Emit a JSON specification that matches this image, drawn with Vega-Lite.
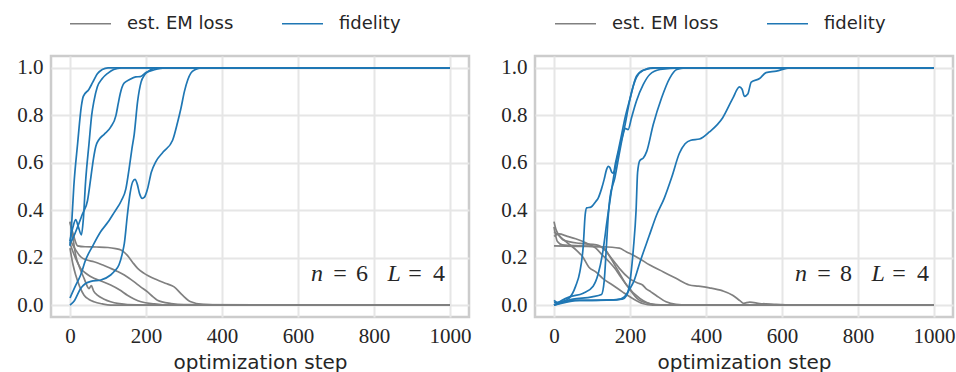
{
  "$schema": "https://vega.github.io/schema/vega-lite/v6.json",
  "autosize": {"type": "pad"},
  "padding": {"left": 15, "top": 0, "right": 0, "bottom": 0},
  "config": {
    "view": {"stroke": "#cccccc", "strokeWidth": 2.5},
    "concat": {"spacing": 26},
    "axis": {
      "domain": false,
      "ticks": false,
      "gridColor": "#e6e6e6",
      "gridWidth": 2,
      "labelFont": "Liberation Serif",
      "labelFontSize": 21,
      "labelColor": "#262626",
      "labelPadding": 8,
      "titleFont": "DejaVu Sans",
      "titleFontSize": 20,
      "titleFontWeight": "normal",
      "titleColor": "#262626",
      "titlePadding": 6
    },
    "text": {"font": "Liberation Serif", "fontSize": 24, "color": "#262626", "baseline": "middle", "align": "center"},
    "line": {"strokeWidth": 1.7, "interpolate": "monotone"}
  },
  "datasets": {
    "n6": [
      {"metric": "est. EM loss", "run": 1, "step": 0, "value": 0.352},
      {"metric": "est. EM loss", "run": 1, "step": 10, "value": 0.29},
      {"metric": "est. EM loss", "run": 1, "step": 20, "value": 0.25},
      {"metric": "est. EM loss", "run": 1, "step": 40, "value": 0.246},
      {"metric": "est. EM loss", "run": 1, "step": 70, "value": 0.245},
      {"metric": "est. EM loss", "run": 1, "step": 100, "value": 0.243},
      {"metric": "est. EM loss", "run": 1, "step": 120, "value": 0.238},
      {"metric": "est. EM loss", "run": 1, "step": 134, "value": 0.232},
      {"metric": "est. EM loss", "run": 1, "step": 151, "value": 0.21},
      {"metric": "est. EM loss", "run": 1, "step": 165, "value": 0.18},
      {"metric": "est. EM loss", "run": 1, "step": 178, "value": 0.155},
      {"metric": "est. EM loss", "run": 1, "step": 195, "value": 0.134},
      {"metric": "est. EM loss", "run": 1, "step": 230, "value": 0.106},
      {"metric": "est. EM loss", "run": 1, "step": 255, "value": 0.09},
      {"metric": "est. EM loss", "run": 1, "step": 274, "value": 0.077},
      {"metric": "est. EM loss", "run": 1, "step": 296, "value": 0.042},
      {"metric": "est. EM loss", "run": 1, "step": 318, "value": 0.014},
      {"metric": "est. EM loss", "run": 1, "step": 350, "value": 0.003},
      {"metric": "est. EM loss", "run": 1, "step": 400, "value": 0},
      {"metric": "est. EM loss", "run": 1, "step": 1000, "value": 0},

      {"metric": "est. EM loss", "run": 2, "step": 0, "value": 0.275},
      {"metric": "est. EM loss", "run": 2, "step": 14, "value": 0.235},
      {"metric": "est. EM loss", "run": 2, "step": 28, "value": 0.204},
      {"metric": "est. EM loss", "run": 2, "step": 45, "value": 0.19},
      {"metric": "est. EM loss", "run": 2, "step": 63, "value": 0.183},
      {"metric": "est. EM loss", "run": 2, "step": 85, "value": 0.17},
      {"metric": "est. EM loss", "run": 2, "step": 107, "value": 0.155},
      {"metric": "est. EM loss", "run": 2, "step": 125, "value": 0.142},
      {"metric": "est. EM loss", "run": 2, "step": 143, "value": 0.127},
      {"metric": "est. EM loss", "run": 2, "step": 169, "value": 0.098},
      {"metric": "est. EM loss", "run": 2, "step": 185, "value": 0.078},
      {"metric": "est. EM loss", "run": 2, "step": 204, "value": 0.056},
      {"metric": "est. EM loss", "run": 2, "step": 218, "value": 0.036},
      {"metric": "est. EM loss", "run": 2, "step": 230, "value": 0.021},
      {"metric": "est. EM loss", "run": 2, "step": 266, "value": 0.007},
      {"metric": "est. EM loss", "run": 2, "step": 300, "value": 0.002},
      {"metric": "est. EM loss", "run": 2, "step": 1000, "value": 0},

      {"metric": "est. EM loss", "run": 3, "step": 0, "value": 0.26},
      {"metric": "est. EM loss", "run": 3, "step": 14, "value": 0.2},
      {"metric": "est. EM loss", "run": 3, "step": 28, "value": 0.155},
      {"metric": "est. EM loss", "run": 3, "step": 45, "value": 0.13},
      {"metric": "est. EM loss", "run": 3, "step": 63, "value": 0.113},
      {"metric": "est. EM loss", "run": 3, "step": 85, "value": 0.1},
      {"metric": "est. EM loss", "run": 3, "step": 107, "value": 0.085},
      {"metric": "est. EM loss", "run": 3, "step": 130, "value": 0.065},
      {"metric": "est. EM loss", "run": 3, "step": 151, "value": 0.042},
      {"metric": "est. EM loss", "run": 3, "step": 170, "value": 0.025},
      {"metric": "est. EM loss", "run": 3, "step": 187, "value": 0.014},
      {"metric": "est. EM loss", "run": 3, "step": 222, "value": 0.005},
      {"metric": "est. EM loss", "run": 3, "step": 260, "value": 0},
      {"metric": "est. EM loss", "run": 3, "step": 1000, "value": 0},

      {"metric": "est. EM loss", "run": 4, "step": 0, "value": 0.35},
      {"metric": "est. EM loss", "run": 4, "step": 8, "value": 0.28},
      {"metric": "est. EM loss", "run": 4, "step": 15, "value": 0.21},
      {"metric": "est. EM loss", "run": 4, "step": 25, "value": 0.16},
      {"metric": "est. EM loss", "run": 4, "step": 37, "value": 0.113},
      {"metric": "est. EM loss", "run": 4, "step": 50, "value": 0.07},
      {"metric": "est. EM loss", "run": 4, "step": 56, "value": 0.082},
      {"metric": "est. EM loss", "run": 4, "step": 62, "value": 0.06},
      {"metric": "est. EM loss", "run": 4, "step": 72, "value": 0.042},
      {"metric": "est. EM loss", "run": 4, "step": 90, "value": 0.025},
      {"metric": "est. EM loss", "run": 4, "step": 107, "value": 0.014},
      {"metric": "est. EM loss", "run": 4, "step": 130, "value": 0.006},
      {"metric": "est. EM loss", "run": 4, "step": 151, "value": 0.002},
      {"metric": "est. EM loss", "run": 4, "step": 200, "value": 0},
      {"metric": "est. EM loss", "run": 4, "step": 1000, "value": 0},

      {"metric": "est. EM loss", "run": 5, "step": 0, "value": 0.24},
      {"metric": "est. EM loss", "run": 5, "step": 8, "value": 0.17},
      {"metric": "est. EM loss", "run": 5, "step": 15, "value": 0.127},
      {"metric": "est. EM loss", "run": 5, "step": 25, "value": 0.08},
      {"metric": "est. EM loss", "run": 5, "step": 37, "value": 0.042},
      {"metric": "est. EM loss", "run": 5, "step": 50, "value": 0.024},
      {"metric": "est. EM loss", "run": 5, "step": 63, "value": 0.014},
      {"metric": "est. EM loss", "run": 5, "step": 85, "value": 0.005},
      {"metric": "est. EM loss", "run": 5, "step": 107, "value": 0},
      {"metric": "est. EM loss", "run": 5, "step": 1000, "value": 0},

      {"metric": "fidelity", "run": 1, "step": 0, "value": 0.25},
      {"metric": "fidelity", "run": 1, "step": 5, "value": 0.36},
      {"metric": "fidelity", "run": 1, "step": 10, "value": 0.5},
      {"metric": "fidelity", "run": 1, "step": 20, "value": 0.68},
      {"metric": "fidelity", "run": 1, "step": 30, "value": 0.84},
      {"metric": "fidelity", "run": 1, "step": 35, "value": 0.88},
      {"metric": "fidelity", "run": 1, "step": 50, "value": 0.91},
      {"metric": "fidelity", "run": 1, "step": 60, "value": 0.94},
      {"metric": "fidelity", "run": 1, "step": 72, "value": 0.975},
      {"metric": "fidelity", "run": 1, "step": 85, "value": 0.993},
      {"metric": "fidelity", "run": 1, "step": 100, "value": 1},
      {"metric": "fidelity", "run": 1, "step": 1000, "value": 1},

      {"metric": "fidelity", "run": 2, "step": 0, "value": 0.27},
      {"metric": "fidelity", "run": 2, "step": 8, "value": 0.33},
      {"metric": "fidelity", "run": 2, "step": 15, "value": 0.36},
      {"metric": "fidelity", "run": 2, "step": 22, "value": 0.33},
      {"metric": "fidelity", "run": 2, "step": 30, "value": 0.296},
      {"metric": "fidelity", "run": 2, "step": 35, "value": 0.36},
      {"metric": "fidelity", "run": 2, "step": 41, "value": 0.52},
      {"metric": "fidelity", "run": 2, "step": 50, "value": 0.68},
      {"metric": "fidelity", "run": 2, "step": 57, "value": 0.8},
      {"metric": "fidelity", "run": 2, "step": 63, "value": 0.86},
      {"metric": "fidelity", "run": 2, "step": 72, "value": 0.92},
      {"metric": "fidelity", "run": 2, "step": 85, "value": 0.955},
      {"metric": "fidelity", "run": 2, "step": 100, "value": 0.978},
      {"metric": "fidelity", "run": 2, "step": 115, "value": 0.993},
      {"metric": "fidelity", "run": 2, "step": 135, "value": 1},
      {"metric": "fidelity", "run": 2, "step": 1000, "value": 1},

      {"metric": "fidelity", "run": 3, "step": 0, "value": 0.26},
      {"metric": "fidelity", "run": 3, "step": 10, "value": 0.29},
      {"metric": "fidelity", "run": 3, "step": 20, "value": 0.33},
      {"metric": "fidelity", "run": 3, "step": 33, "value": 0.385},
      {"metric": "fidelity", "run": 3, "step": 46, "value": 0.44},
      {"metric": "fidelity", "run": 3, "step": 55, "value": 0.54},
      {"metric": "fidelity", "run": 3, "step": 62, "value": 0.62},
      {"metric": "fidelity", "run": 3, "step": 68, "value": 0.67},
      {"metric": "fidelity", "run": 3, "step": 75, "value": 0.695},
      {"metric": "fidelity", "run": 3, "step": 90, "value": 0.72},
      {"metric": "fidelity", "run": 3, "step": 107, "value": 0.75},
      {"metric": "fidelity", "run": 3, "step": 121, "value": 0.8},
      {"metric": "fidelity", "run": 3, "step": 127, "value": 0.85},
      {"metric": "fidelity", "run": 3, "step": 132, "value": 0.89},
      {"metric": "fidelity", "run": 3, "step": 142, "value": 0.935},
      {"metric": "fidelity", "run": 3, "step": 156, "value": 0.95},
      {"metric": "fidelity", "run": 3, "step": 173, "value": 0.962},
      {"metric": "fidelity", "run": 3, "step": 185, "value": 0.963},
      {"metric": "fidelity", "run": 3, "step": 200, "value": 0.98},
      {"metric": "fidelity", "run": 3, "step": 222, "value": 0.992},
      {"metric": "fidelity", "run": 3, "step": 250, "value": 1},
      {"metric": "fidelity", "run": 3, "step": 1000, "value": 1},

      {"metric": "fidelity", "run": 4, "step": 0, "value": 0.03},
      {"metric": "fidelity", "run": 4, "step": 14, "value": 0.08},
      {"metric": "fidelity", "run": 4, "step": 28, "value": 0.127},
      {"metric": "fidelity", "run": 4, "step": 41, "value": 0.19},
      {"metric": "fidelity", "run": 4, "step": 60, "value": 0.25},
      {"metric": "fidelity", "run": 4, "step": 81, "value": 0.31},
      {"metric": "fidelity", "run": 4, "step": 100, "value": 0.35},
      {"metric": "fidelity", "run": 4, "step": 116, "value": 0.39},
      {"metric": "fidelity", "run": 4, "step": 135, "value": 0.44},
      {"metric": "fidelity", "run": 4, "step": 147, "value": 0.49},
      {"metric": "fidelity", "run": 4, "step": 156, "value": 0.58},
      {"metric": "fidelity", "run": 4, "step": 163, "value": 0.66},
      {"metric": "fidelity", "run": 4, "step": 169, "value": 0.72},
      {"metric": "fidelity", "run": 4, "step": 178, "value": 0.86},
      {"metric": "fidelity", "run": 4, "step": 187, "value": 0.94},
      {"metric": "fidelity", "run": 4, "step": 196, "value": 0.97},
      {"metric": "fidelity", "run": 4, "step": 206, "value": 0.985},
      {"metric": "fidelity", "run": 4, "step": 230, "value": 1},
      {"metric": "fidelity", "run": 4, "step": 1000, "value": 1},

      {"metric": "fidelity", "run": 5, "step": 0, "value": 0},
      {"metric": "fidelity", "run": 5, "step": 12, "value": 0.02},
      {"metric": "fidelity", "run": 5, "step": 28, "value": 0.07},
      {"metric": "fidelity", "run": 5, "step": 40, "value": 0.09},
      {"metric": "fidelity", "run": 5, "step": 55, "value": 0.1},
      {"metric": "fidelity", "run": 5, "step": 81, "value": 0.106},
      {"metric": "fidelity", "run": 5, "step": 107, "value": 0.127},
      {"metric": "fidelity", "run": 5, "step": 118, "value": 0.145},
      {"metric": "fidelity", "run": 5, "step": 129, "value": 0.17},
      {"metric": "fidelity", "run": 5, "step": 138, "value": 0.22},
      {"metric": "fidelity", "run": 5, "step": 143, "value": 0.26},
      {"metric": "fidelity", "run": 5, "step": 151, "value": 0.38},
      {"metric": "fidelity", "run": 5, "step": 158, "value": 0.47},
      {"metric": "fidelity", "run": 5, "step": 165, "value": 0.52},
      {"metric": "fidelity", "run": 5, "step": 171, "value": 0.53},
      {"metric": "fidelity", "run": 5, "step": 177, "value": 0.51},
      {"metric": "fidelity", "run": 5, "step": 183, "value": 0.47},
      {"metric": "fidelity", "run": 5, "step": 190, "value": 0.45},
      {"metric": "fidelity", "run": 5, "step": 196, "value": 0.455},
      {"metric": "fidelity", "run": 5, "step": 204, "value": 0.49},
      {"metric": "fidelity", "run": 5, "step": 214, "value": 0.56},
      {"metric": "fidelity", "run": 5, "step": 226, "value": 0.605},
      {"metric": "fidelity", "run": 5, "step": 245, "value": 0.645},
      {"metric": "fidelity", "run": 5, "step": 270, "value": 0.695},
      {"metric": "fidelity", "run": 5, "step": 283, "value": 0.77},
      {"metric": "fidelity", "run": 5, "step": 292, "value": 0.83},
      {"metric": "fidelity", "run": 5, "step": 301, "value": 0.9},
      {"metric": "fidelity", "run": 5, "step": 310, "value": 0.95},
      {"metric": "fidelity", "run": 5, "step": 318, "value": 0.978},
      {"metric": "fidelity", "run": 5, "step": 330, "value": 0.993},
      {"metric": "fidelity", "run": 5, "step": 345, "value": 1},
      {"metric": "fidelity", "run": 5, "step": 1000, "value": 1}
    ],
    "n8": [
      {"metric": "est. EM loss", "run": 1, "step": 0, "value": 0.25},
      {"metric": "est. EM loss", "run": 1, "step": 60, "value": 0.248},
      {"metric": "est. EM loss", "run": 1, "step": 128, "value": 0.246},
      {"metric": "est. EM loss", "run": 1, "step": 172, "value": 0.24},
      {"metric": "est. EM loss", "run": 1, "step": 190, "value": 0.225},
      {"metric": "est. EM loss", "run": 1, "step": 209, "value": 0.21},
      {"metric": "est. EM loss", "run": 1, "step": 224, "value": 0.197},
      {"metric": "est. EM loss", "run": 1, "step": 251, "value": 0.17},
      {"metric": "est. EM loss", "run": 1, "step": 288, "value": 0.14},
      {"metric": "est. EM loss", "run": 1, "step": 321, "value": 0.113},
      {"metric": "est. EM loss", "run": 1, "step": 356, "value": 0.085},
      {"metric": "est. EM loss", "run": 1, "step": 380, "value": 0.08},
      {"metric": "est. EM loss", "run": 1, "step": 409, "value": 0.073},
      {"metric": "est. EM loss", "run": 1, "step": 444, "value": 0.06},
      {"metric": "est. EM loss", "run": 1, "step": 470, "value": 0.042},
      {"metric": "est. EM loss", "run": 1, "step": 490, "value": 0.018},
      {"metric": "est. EM loss", "run": 1, "step": 499, "value": 0.008},
      {"metric": "est. EM loss", "run": 1, "step": 515, "value": 0.013},
      {"metric": "est. EM loss", "run": 1, "step": 541, "value": 0.007},
      {"metric": "est. EM loss", "run": 1, "step": 585, "value": 0.003},
      {"metric": "est. EM loss", "run": 1, "step": 620, "value": 0},
      {"metric": "est. EM loss", "run": 1, "step": 1000, "value": 0},

      {"metric": "est. EM loss", "run": 2, "step": 0, "value": 0.352},
      {"metric": "est. EM loss", "run": 2, "step": 5, "value": 0.32},
      {"metric": "est. EM loss", "run": 2, "step": 11, "value": 0.3},
      {"metric": "est. EM loss", "run": 2, "step": 30, "value": 0.27},
      {"metric": "est. EM loss", "run": 2, "step": 60, "value": 0.23},
      {"metric": "est. EM loss", "run": 2, "step": 75, "value": 0.205},
      {"metric": "est. EM loss", "run": 2, "step": 92, "value": 0.16},
      {"metric": "est. EM loss", "run": 2, "step": 110, "value": 0.14},
      {"metric": "est. EM loss", "run": 2, "step": 128, "value": 0.113},
      {"metric": "est. EM loss", "run": 2, "step": 154, "value": 0.085},
      {"metric": "est. EM loss", "run": 2, "step": 180, "value": 0.056},
      {"metric": "est. EM loss", "run": 2, "step": 207, "value": 0.028},
      {"metric": "est. EM loss", "run": 2, "step": 233, "value": 0.007},
      {"metric": "est. EM loss", "run": 2, "step": 260, "value": 0},
      {"metric": "est. EM loss", "run": 2, "step": 1000, "value": 0},

      {"metric": "est. EM loss", "run": 3, "step": 0, "value": 0.29},
      {"metric": "est. EM loss", "run": 3, "step": 13, "value": 0.3},
      {"metric": "est. EM loss", "run": 3, "step": 35, "value": 0.29},
      {"metric": "est. EM loss", "run": 3, "step": 57, "value": 0.28},
      {"metric": "est. EM loss", "run": 3, "step": 85, "value": 0.262},
      {"metric": "est. EM loss", "run": 3, "step": 110, "value": 0.24},
      {"metric": "est. EM loss", "run": 3, "step": 128, "value": 0.21},
      {"metric": "est. EM loss", "run": 3, "step": 145, "value": 0.183},
      {"metric": "est. EM loss", "run": 3, "step": 160, "value": 0.155},
      {"metric": "est. EM loss", "run": 3, "step": 172, "value": 0.127},
      {"metric": "est. EM loss", "run": 3, "step": 185, "value": 0.098},
      {"metric": "est. EM loss", "run": 3, "step": 198, "value": 0.07},
      {"metric": "est. EM loss", "run": 3, "step": 212, "value": 0.04},
      {"metric": "est. EM loss", "run": 3, "step": 224, "value": 0.021},
      {"metric": "est. EM loss", "run": 3, "step": 251, "value": 0.007},
      {"metric": "est. EM loss", "run": 3, "step": 280, "value": 0},
      {"metric": "est. EM loss", "run": 3, "step": 1000, "value": 0},

      {"metric": "est. EM loss", "run": 4, "step": 0, "value": 0.33},
      {"metric": "est. EM loss", "run": 4, "step": 9, "value": 0.268},
      {"metric": "est. EM loss", "run": 4, "step": 22, "value": 0.254},
      {"metric": "est. EM loss", "run": 4, "step": 70, "value": 0.25},
      {"metric": "est. EM loss", "run": 4, "step": 128, "value": 0.246},
      {"metric": "est. EM loss", "run": 4, "step": 145, "value": 0.21},
      {"metric": "est. EM loss", "run": 4, "step": 160, "value": 0.18},
      {"metric": "est. EM loss", "run": 4, "step": 172, "value": 0.155},
      {"metric": "est. EM loss", "run": 4, "step": 198, "value": 0.113},
      {"metric": "est. EM loss", "run": 4, "step": 220, "value": 0.093},
      {"metric": "est. EM loss", "run": 4, "step": 233, "value": 0.085},
      {"metric": "est. EM loss", "run": 4, "step": 242, "value": 0.07},
      {"metric": "est. EM loss", "run": 4, "step": 255, "value": 0.056},
      {"metric": "est. EM loss", "run": 4, "step": 268, "value": 0.042},
      {"metric": "est. EM loss", "run": 4, "step": 295, "value": 0.014},
      {"metric": "est. EM loss", "run": 4, "step": 321, "value": 0.003},
      {"metric": "est. EM loss", "run": 4, "step": 350, "value": 0},
      {"metric": "est. EM loss", "run": 4, "step": 1000, "value": 0},

      {"metric": "est. EM loss", "run": 5, "step": 0, "value": 0.31},
      {"metric": "est. EM loss", "run": 5, "step": 11, "value": 0.296},
      {"metric": "est. EM loss", "run": 5, "step": 24, "value": 0.275},
      {"metric": "est. EM loss", "run": 5, "step": 68, "value": 0.26},
      {"metric": "est. EM loss", "run": 5, "step": 112, "value": 0.254},
      {"metric": "est. EM loss", "run": 5, "step": 138, "value": 0.225},
      {"metric": "est. EM loss", "run": 5, "step": 165, "value": 0.155},
      {"metric": "est. EM loss", "run": 5, "step": 191, "value": 0.085},
      {"metric": "est. EM loss", "run": 5, "step": 226, "value": 0.028},
      {"metric": "est. EM loss", "run": 5, "step": 261, "value": 0.003},
      {"metric": "est. EM loss", "run": 5, "step": 300, "value": 0},
      {"metric": "est. EM loss", "run": 5, "step": 1000, "value": 0},

      {"metric": "fidelity", "run": 1, "step": 0, "value": 0.01},
      {"metric": "fidelity", "run": 1, "step": 20, "value": 0.015},
      {"metric": "fidelity", "run": 1, "step": 40, "value": 0.03},
      {"metric": "fidelity", "run": 1, "step": 57, "value": 0.08},
      {"metric": "fidelity", "run": 1, "step": 68, "value": 0.14},
      {"metric": "fidelity", "run": 1, "step": 77, "value": 0.25},
      {"metric": "fidelity", "run": 1, "step": 82, "value": 0.38},
      {"metric": "fidelity", "run": 1, "step": 86, "value": 0.41},
      {"metric": "fidelity", "run": 1, "step": 97, "value": 0.413},
      {"metric": "fidelity", "run": 1, "step": 110, "value": 0.437},
      {"metric": "fidelity", "run": 1, "step": 116, "value": 0.45},
      {"metric": "fidelity", "run": 1, "step": 125, "value": 0.49},
      {"metric": "fidelity", "run": 1, "step": 132, "value": 0.53},
      {"metric": "fidelity", "run": 1, "step": 138, "value": 0.57},
      {"metric": "fidelity", "run": 1, "step": 143, "value": 0.585},
      {"metric": "fidelity", "run": 1, "step": 147, "value": 0.58},
      {"metric": "fidelity", "run": 1, "step": 152, "value": 0.56},
      {"metric": "fidelity", "run": 1, "step": 156, "value": 0.556},
      {"metric": "fidelity", "run": 1, "step": 162, "value": 0.6},
      {"metric": "fidelity", "run": 1, "step": 169, "value": 0.65},
      {"metric": "fidelity", "run": 1, "step": 178, "value": 0.72},
      {"metric": "fidelity", "run": 1, "step": 187, "value": 0.79},
      {"metric": "fidelity", "run": 1, "step": 200, "value": 0.87},
      {"metric": "fidelity", "run": 1, "step": 217, "value": 0.965},
      {"metric": "fidelity", "run": 1, "step": 235, "value": 0.99},
      {"metric": "fidelity", "run": 1, "step": 270, "value": 1},
      {"metric": "fidelity", "run": 1, "step": 1000, "value": 1},

      {"metric": "fidelity", "run": 2, "step": 0, "value": 0},
      {"metric": "fidelity", "run": 2, "step": 20, "value": 0.02},
      {"metric": "fidelity", "run": 2, "step": 41, "value": 0.035},
      {"metric": "fidelity", "run": 2, "step": 77, "value": 0.05},
      {"metric": "fidelity", "run": 2, "step": 103, "value": 0.08},
      {"metric": "fidelity", "run": 2, "step": 116, "value": 0.13},
      {"metric": "fidelity", "run": 2, "step": 128, "value": 0.22},
      {"metric": "fidelity", "run": 2, "step": 140, "value": 0.36},
      {"metric": "fidelity", "run": 2, "step": 150, "value": 0.47},
      {"metric": "fidelity", "run": 2, "step": 158, "value": 0.55},
      {"metric": "fidelity", "run": 2, "step": 165, "value": 0.61},
      {"metric": "fidelity", "run": 2, "step": 175, "value": 0.68},
      {"metric": "fidelity", "run": 2, "step": 187, "value": 0.76},
      {"metric": "fidelity", "run": 2, "step": 200, "value": 0.87},
      {"metric": "fidelity", "run": 2, "step": 217, "value": 0.96},
      {"metric": "fidelity", "run": 2, "step": 235, "value": 0.99},
      {"metric": "fidelity", "run": 2, "step": 260, "value": 1},
      {"metric": "fidelity", "run": 2, "step": 1000, "value": 1},

      {"metric": "fidelity", "run": 3, "step": 0, "value": 0.02},
      {"metric": "fidelity", "run": 3, "step": 10, "value": 0.01},
      {"metric": "fidelity", "run": 3, "step": 50, "value": 0.025},
      {"metric": "fidelity", "run": 3, "step": 100, "value": 0.035},
      {"metric": "fidelity", "run": 3, "step": 125, "value": 0.045},
      {"metric": "fidelity", "run": 3, "step": 132, "value": 0.1},
      {"metric": "fidelity", "run": 3, "step": 138, "value": 0.25},
      {"metric": "fidelity", "run": 3, "step": 143, "value": 0.38},
      {"metric": "fidelity", "run": 3, "step": 147, "value": 0.45},
      {"metric": "fidelity", "run": 3, "step": 160, "value": 0.535},
      {"metric": "fidelity", "run": 3, "step": 173, "value": 0.648},
      {"metric": "fidelity", "run": 3, "step": 182, "value": 0.72},
      {"metric": "fidelity", "run": 3, "step": 187, "value": 0.745},
      {"metric": "fidelity", "run": 3, "step": 195, "value": 0.74},
      {"metric": "fidelity", "run": 3, "step": 204, "value": 0.79},
      {"metric": "fidelity", "run": 3, "step": 217, "value": 0.86},
      {"metric": "fidelity", "run": 3, "step": 235, "value": 0.93},
      {"metric": "fidelity", "run": 3, "step": 252, "value": 0.972},
      {"metric": "fidelity", "run": 3, "step": 279, "value": 0.993},
      {"metric": "fidelity", "run": 3, "step": 330, "value": 1},
      {"metric": "fidelity", "run": 3, "step": 1000, "value": 1},

      {"metric": "fidelity", "run": 4, "step": 0, "value": 0},
      {"metric": "fidelity", "run": 4, "step": 50, "value": 0.02},
      {"metric": "fidelity", "run": 4, "step": 100, "value": 0.02},
      {"metric": "fidelity", "run": 4, "step": 150, "value": 0.022},
      {"metric": "fidelity", "run": 4, "step": 180, "value": 0.025},
      {"metric": "fidelity", "run": 4, "step": 191, "value": 0.04},
      {"metric": "fidelity", "run": 4, "step": 200, "value": 0.1},
      {"metric": "fidelity", "run": 4, "step": 209, "value": 0.24},
      {"metric": "fidelity", "run": 4, "step": 216, "value": 0.4},
      {"metric": "fidelity", "run": 4, "step": 220, "value": 0.56},
      {"metric": "fidelity", "run": 4, "step": 226, "value": 0.61},
      {"metric": "fidelity", "run": 4, "step": 235, "value": 0.62},
      {"metric": "fidelity", "run": 4, "step": 244, "value": 0.648},
      {"metric": "fidelity", "run": 4, "step": 261, "value": 0.76},
      {"metric": "fidelity", "run": 4, "step": 283, "value": 0.873},
      {"metric": "fidelity", "run": 4, "step": 305, "value": 0.958},
      {"metric": "fidelity", "run": 4, "step": 323, "value": 0.993},
      {"metric": "fidelity", "run": 4, "step": 345, "value": 1},
      {"metric": "fidelity", "run": 4, "step": 1000, "value": 1},

      {"metric": "fidelity", "run": 5, "step": 0, "value": 0},
      {"metric": "fidelity", "run": 5, "step": 68, "value": 0.02},
      {"metric": "fidelity", "run": 5, "step": 112, "value": 0.02},
      {"metric": "fidelity", "run": 5, "step": 165, "value": 0.022},
      {"metric": "fidelity", "run": 5, "step": 185, "value": 0.035},
      {"metric": "fidelity", "run": 5, "step": 198, "value": 0.065},
      {"metric": "fidelity", "run": 5, "step": 210, "value": 0.1},
      {"metric": "fidelity", "run": 5, "step": 226, "value": 0.18},
      {"metric": "fidelity", "run": 5, "step": 250, "value": 0.29},
      {"metric": "fidelity", "run": 5, "step": 270, "value": 0.38},
      {"metric": "fidelity", "run": 5, "step": 290, "value": 0.45},
      {"metric": "fidelity", "run": 5, "step": 310, "value": 0.54},
      {"metric": "fidelity", "run": 5, "step": 330, "value": 0.64},
      {"metric": "fidelity", "run": 5, "step": 345, "value": 0.68},
      {"metric": "fidelity", "run": 5, "step": 360, "value": 0.695},
      {"metric": "fidelity", "run": 5, "step": 383, "value": 0.7},
      {"metric": "fidelity", "run": 5, "step": 409, "value": 0.73},
      {"metric": "fidelity", "run": 5, "step": 444, "value": 0.79},
      {"metric": "fidelity", "run": 5, "step": 470, "value": 0.87},
      {"metric": "fidelity", "run": 5, "step": 488, "value": 0.92},
      {"metric": "fidelity", "run": 5, "step": 495, "value": 0.91},
      {"metric": "fidelity", "run": 5, "step": 501, "value": 0.88},
      {"metric": "fidelity", "run": 5, "step": 510, "value": 0.89},
      {"metric": "fidelity", "run": 5, "step": 519, "value": 0.94},
      {"metric": "fidelity", "run": 5, "step": 541, "value": 0.955},
      {"metric": "fidelity", "run": 5, "step": 558, "value": 0.98},
      {"metric": "fidelity", "run": 5, "step": 585, "value": 0.986},
      {"metric": "fidelity", "run": 5, "step": 620, "value": 1},
      {"metric": "fidelity", "run": 5, "step": 1000, "value": 1}
    ]
  },
  "hconcat": [
    {
      "width": 418,
      "height": 261,
      "layer": [
        {
          "data": {"name": "n6"},
          "mark": {"type": "line"},
          "encoding": {
            "x": {"field": "step", "type": "quantitative", "scale": {"domain": [-50, 1050], "nice": false},
                  "axis": {"values": [0, 200, 400, 600, 800, 1000], "format": "d", "title": "optimization step"}},
            "y": {"field": "value", "type": "quantitative", "scale": {"domain": [-0.05, 1.05], "nice": false},
                  "axis": {"values": [0, 0.2, 0.4, 0.6, 0.8, 1.0], "format": ".1f", "title": null}},
            "color": {"field": "metric", "type": "nominal",
                      "scale": {"domain": ["est. EM loss", "fidelity"], "range": ["#808080", "#1f77b4"]},
                      "legend": {"title": null, "orient": "none", "legendX": 18, "legendY": -54, "direction": "horizontal",
                                 "symbolType": "stroke", "symbolSize": 1681, "symbolStrokeWidth": 1.7,
                                 "labelFont": "DejaVu Sans", "labelFontSize": 18, "labelColor": "#262626",
                                 "labelOffset": 15, "columnPadding": 44, "padding": 0}},
            "detail": {"field": "run", "type": "nominal"}
          }
        },
        {
          "data": {"values": [{}]},
          "layer": [
            {"mark": {"type": "text", "text": "n", "fontStyle": "italic", "dx": -131}},
            {"mark": {"type": "text", "text": "=", "dx": -108}},
            {"mark": {"type": "text", "text": "6", "dx": -86}},
            {"mark": {"type": "text", "text": "L", "fontStyle": "italic", "dx": -54}},
            {"mark": {"type": "text", "text": "=", "dx": -33}},
            {"mark": {"type": "text", "text": "4", "dx": -9}}
          ],
          "encoding": {"x": {"datum": 995}, "y": {"datum": 0.13}}
        }
      ]
    },
    {
      "width": 418,
      "height": 261,
      "layer": [
        {
          "data": {"name": "n8"},
          "mark": {"type": "line"},
          "encoding": {
            "x": {"field": "step", "type": "quantitative", "scale": {"domain": [-50, 1050], "nice": false},
                  "axis": {"values": [0, 200, 400, 600, 800, 1000], "format": "d", "title": "optimization step"}},
            "y": {"field": "value", "type": "quantitative", "scale": {"domain": [-0.05, 1.05], "nice": false},
                  "axis": {"values": [0, 0.2, 0.4, 0.6, 0.8, 1.0], "format": ".1f", "title": null}},
            "color": {"field": "metric", "type": "nominal",
                      "scale": {"domain": ["est. EM loss", "fidelity"], "range": ["#808080", "#1f77b4"]},
                      "legend": {"title": null, "orient": "none", "legendX": 19, "legendY": -54, "direction": "horizontal",
                                 "symbolType": "stroke", "symbolSize": 1681, "symbolStrokeWidth": 1.7,
                                 "labelFont": "DejaVu Sans", "labelFontSize": 18, "labelColor": "#262626",
                                 "labelOffset": 15, "columnPadding": 44, "padding": 0}},
            "detail": {"field": "run", "type": "nominal"}
          }
        },
        {
          "data": {"values": [{}]},
          "layer": [
            {"mark": {"type": "text", "text": "n", "fontStyle": "italic", "dx": -131}},
            {"mark": {"type": "text", "text": "=", "dx": -108}},
            {"mark": {"type": "text", "text": "8", "dx": -86}},
            {"mark": {"type": "text", "text": "L", "fontStyle": "italic", "dx": -54}},
            {"mark": {"type": "text", "text": "=", "dx": -33}},
            {"mark": {"type": "text", "text": "4", "dx": -9}}
          ],
          "encoding": {"x": {"datum": 995}, "y": {"datum": 0.13}}
        }
      ]
    }
  ],
  "resolve": {"scale": {"color": "independent"}, "legend": {"color": "independent"}}
}
